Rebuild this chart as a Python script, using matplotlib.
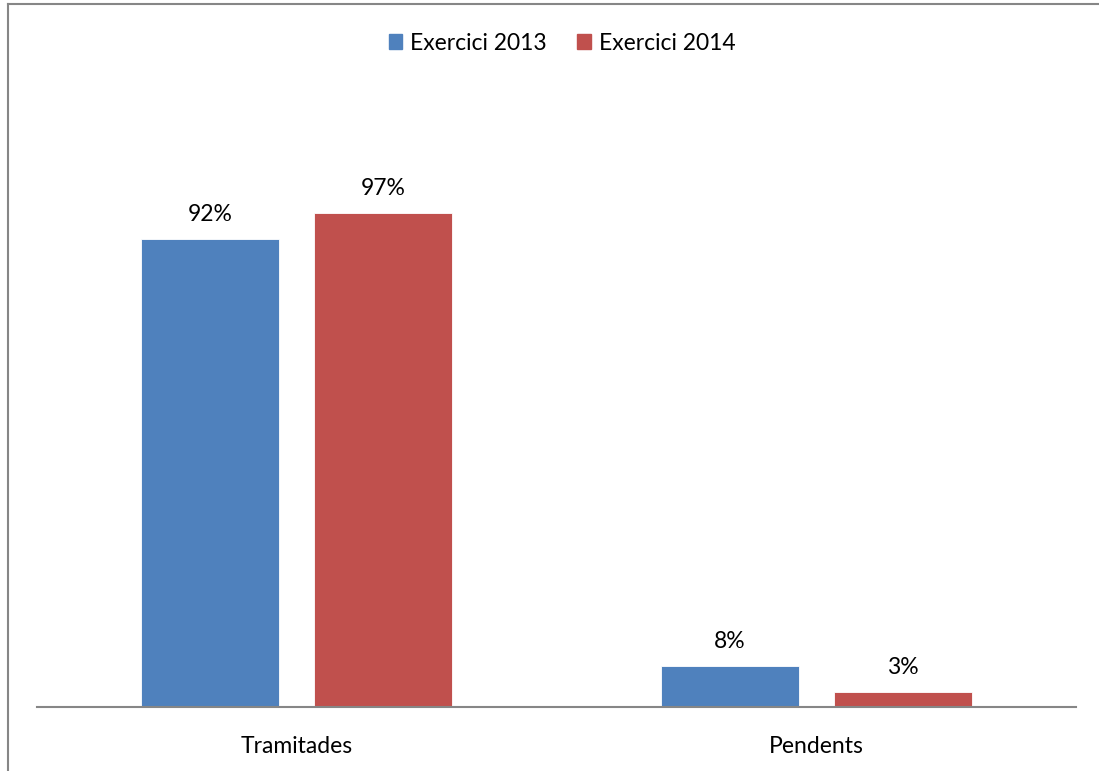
import matplotlib.pyplot as plt
from matplotlib.lines import Line2D
from matplotlib.patches import Patch
import numpy as np

categories = ["Tramitades", "Pendents"]
serie_2013 = [0.92, 0.08]
serie_2014 = [0.97, 0.03]
labels = ["Exercici 2013", "Exercici 2014"]
colors = ["#4F81BD", "#C0504D"]

plt.rcParams["font.family"] = ["Lato", "DejaVu Sans"]
FS = 16.5

W, H = 1099, 771
fig = plt.figure(figsize=(W / 100, H / 100), dpi=100)
ax = fig.add_axes([37 / W, (H - 707) / H, 1039 / W, 611 / H])

x = np.arange(len(categories))
width = 0.266
offset = 0.1665
for vals, off, c in [(serie_2013, -offset, colors[0]), (serie_2014, offset, colors[1])]:
    bars = ax.bar(x + off, vals, width, color=c, edgecolor="white", linewidth=0.6)
    for b, v in zip(bars, vals):
        ax.text(b.get_x() + b.get_width() / 2, v + 0.035, f"{v * 100:.0f}%",
                ha="center", va="baseline", fontsize=FS, color="black")

ax.set_xlim(-0.5, 1.5)
ax.set_ylim(0, 1.2)
ax.set_xticks(x)
ax.set_xticklabels(categories, fontsize=FS)
ax.tick_params(axis="x", length=0, pad=21)
ax.set_yticks([])
for s in ["top", "right", "left"]:
    ax.spines[s].set_visible(False)
ax.spines["bottom"].set_color("#868686")
ax.spines["bottom"].set_linewidth(1.5)

handles = [Patch(color=c) for c in colors]
fig.legend(handles, labels, loc="center", bbox_to_anchor=(562 / W, 1 - 43 / H),
           ncol=2, frameon=False, fontsize=FS, handlelength=0.6, handleheight=0.6,
           handletextpad=0.35, columnspacing=1.3)

# outer chart border (left and top edges)
fig.add_artist(Line2D([7.5 / W, 7.5 / W], [0, 1 - 3.5 / H], color="#868686", lw=1.5))
fig.add_artist(Line2D([7.5 / W, 1], [1 - 3.5 / H, 1 - 3.5 / H], color="#868686", lw=1.5))

fig.savefig("out.png", dpi=100, facecolor="white")
